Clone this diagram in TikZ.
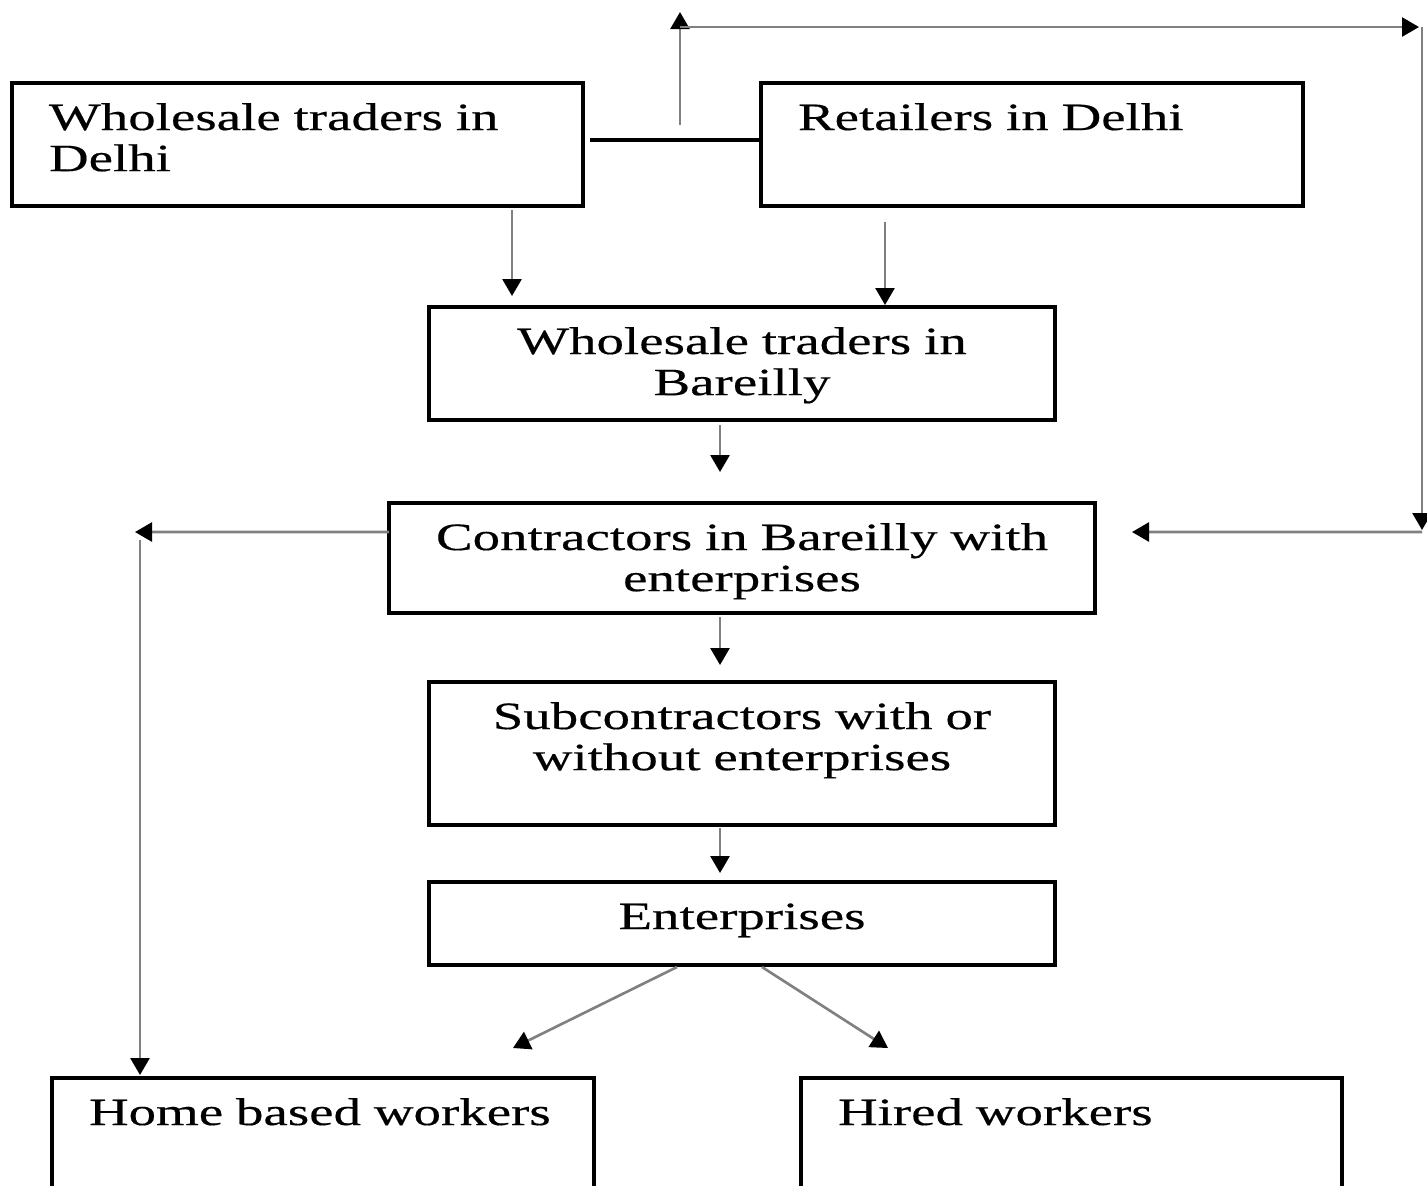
\documentclass[tikz,border=0pt]{standalone}
\usepackage{fontspec}
\setmainfont{Liberation Serif}[FakeStretch=1.42, FakeBold=0.4]
\usetikzlibrary{arrows.meta}

\begin{document}
\begin{tikzpicture}[
    box/.style={draw, line width=1.1pt, inner ysep=0pt, outer sep=0pt, anchor=north west, text height=0.47cm},
    lbox/.style={box, inner xsep=0.37cm, align=left},
    cbox/.style={box, inner xsep=0.1cm, align=center},
    link/.style={draw=black!50, line width=0.75pt, -{Triangle[width=0.19cm, length=0.17cm, color=black]}},
    font=\fontsize{11}{11.7}\selectfont
  ]
  \useasboundingbox (0,0) rectangle (14.27,-11.85);
  \clip (0,0) rectangle (14.27,-11.85);

  \node[lbox, text width=4.97cm, text depth=0.76cm] (wd) at (0.12,-0.83) {Wholesale traders in\\Delhi};
  \node[lbox, text width=4.68cm, text depth=0.76cm] (rd) at (7.61,-0.83) {Retailers in Delhi};
  \node[cbox, text width=6.06cm, text depth=0.66cm] (wb) at (4.29,-3.07) {Wholesale traders in\\Bareilly};
  \node[cbox, text width=6.86cm, text depth=0.63cm] (ct) at (3.89,-5.03) {Contractors in Bareilly with\\enterprises};
  \node[cbox, text width=6.06cm, text depth=0.96cm] (sc) at (4.29,-6.82) {Subcontractors with or\\without enterprises};
  \node[cbox, text width=6.06cm, text depth=0.36cm] (en) at (4.29,-8.82) {Enterprises};
  \node[lbox, text width=4.68cm, text depth=0.83cm] (hw) at (0.52,-10.78) {Home based workers};
  \node[lbox, text width=4.67cm, text depth=0.83cm] (hr) at (8.01,-10.78) {Hired workers};

  \coordinate (j) at (6.80,-1.40);
  \coordinate (tl) at (6.80,-0.27);
  \coordinate (tr) at (14.22,-0.27);
  \coordinate (rc) at (14.22,-5.32);
  \coordinate (lc) at (1.40,-5.32);

  \draw[line width=0.9pt] ([xshift=0.07cm]wd.east |- j) -- (rd.west |- j);
  \draw[link] ([yshift=0.15cm]j) -- ([yshift=0.15cm]tl);
  \draw[link] (tl) -- ([xshift=-0.03cm]tr);
  \draw[link] (tr) -- ([yshift=0.02cm]rc);
  \draw[link] (rc) -- ([shift={(0.37,0.26)}]ct.east);
  \draw[link] ([yshift=0.26cm]ct.west) -- ([xshift=-0.05cm]lc);
  \draw[link] ([yshift=-0.08cm]lc) -- ([yshift=0.03cm]hw.north -| lc);

  \draw[link] ([yshift=-0.04cm]wd.south -| 5.12,0) -- ([yshift=0.11cm]wb.north -| 5.12,0);
  \draw[link] ([yshift=-0.16cm]rd.south -| 8.85,0) -- ([yshift=0.02cm]wb.north -| 8.85,0);
  \draw[link] ([yshift=-0.05cm]wb.south -| 7.20,0) -- ([yshift=0.31cm]ct.north -| 7.20,0);
  \draw[link] ([yshift=-0.04cm]ct.south -| 7.20,0) -- ([yshift=0.17cm]sc.north -| 7.20,0);
  \draw[link] ([yshift=-0.03cm]sc.south -| 7.20,0) -- ([yshift=0.09cm]en.north -| 7.20,0);
  \draw[link] ([yshift=-0.02cm]en.south -| 6.77,0) -- ([yshift=0.30cm]hw.north -| 5.13,0);
  \draw[link] ([yshift=-0.02cm]en.south -| 7.62,0) -- ([yshift=0.30cm]hr.north -| 8.88,0);
\end{tikzpicture}
\end{document}
